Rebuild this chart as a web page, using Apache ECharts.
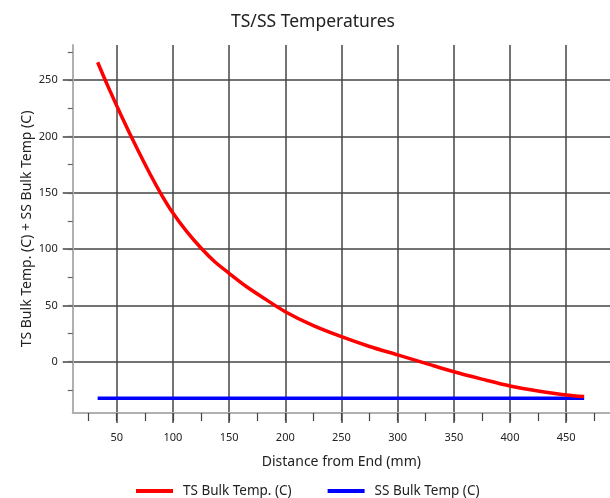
<!DOCTYPE html>
<html>
<head>
<meta charset="utf-8">
<script src="https://cdn.jsdelivr.net/npm/echarts@6/dist/echarts.min.js"></script>
<style>
html,body{margin:0;padding:0;background:#fff;}
#c{width:610px;height:498px;}
</style>
</head>
<body>
<div id="c"></div>
<script>
const tsX = [33, 42, 55, 68, 80, 90, 100, 112, 125, 137, 150, 165, 180, 200, 225, 250, 275, 300, 325, 350, 375, 400, 425, 450, 466];
const tsY = [266, 245, 216.5, 189.5, 166, 148, 132, 116, 101, 89, 78.5, 67, 57, 44.4, 32, 22.2, 13.5, 6, -1.5, -9, -15.5, -21.6, -26, -29.6, -31];
const ssX = [33, 150, 300, 466];
const ssY = [-32.5, -32.5, -32.5, -32.5];
const xMajor = [50, 100, 150, 200, 250, 300, 350, 400, 450];
const xMinor = [25, 50, 75, 100, 125, 150, 175, 200, 225, 250, 275, 300, 325, 350, 375, 400, 425, 450, 475];
const yMajor = [0, 50, 100, 150, 200, 250];
const yMinor = [-25, 0, 25, 50, 75, 100, 125, 150, 175, 200, 225, 250, 275];
const xRange = [10.8, 489];
const yRange = [-45.6, 281.3];

const FONT = 'Noto Sans';
const chart = echarts.init(document.getElementById('c'), null, {renderer: 'canvas'});
const gridColor = '#444';
const axisGray = '#b0b0b0';

chart.setOption({
  animation: false,
  backgroundColor: '#fff',
  textStyle: {fontFamily: FONT},
  title: {
    text: 'TS/SS Temperatures',
    left: 308, textAlign: 'center', top: 8,
    textStyle: {fontFamily: FONT, fontSize: 17.5, fontWeight: 'normal', color: '#222'}
  },
  legend: {
    left: 131, top: 479,
    itemWidth: 37, itemHeight: 4, itemGap: 36,
    icon: 'rect',
    textStyle: {fontFamily: FONT, fontSize: 13.5, color: '#222', padding: [0, 0, 0, 5]},
    data: ['TS Bulk Temp. (C)', 'SS Bulk Temp (C)']
  },
  grid: {left: 72.7, right: 0, top: 45, bottom: 85},
  xAxis: [{
    type: 'value', min: xRange[0], max: xRange[1], position: 'bottom',
    name: 'Distance from End (mm)', nameLocation: 'middle', nameGap: 42, nameMoveOverlap: false,
    nameTextStyle: {fontFamily: FONT, fontSize: 14, color: '#222'},
    axisLine: {show: true, onZero: false, lineStyle: {color: axisGray, width: 2}},
    axisTick: {show: true, customValues: xMajor, length: 10, lineStyle: {color: gridColor, width: 1.5}},
    axisLabel: {customValues: xMajor, margin: 19, fontFamily: FONT, fontSize: 11, color: '#222'},
    splitLine: {show: true, lineStyle: {color: gridColor, width: 1.5}}
  }, {
    type: 'value', min: xRange[0], max: xRange[1], position: 'bottom',
    axisLine: {show: false, onZero: false},
    axisTick: {show: true, customValues: xMinor, length: 8, lineStyle: {color: gridColor, width: 1.2}},
    axisLabel: {show: false},
    splitLine: {show: false}
  }],
  yAxis: [{
    type: 'value', min: yRange[0], max: yRange[1], position: 'left',
    name: 'TS Bulk Temp. (C) + SS Bulk Temp (C)', nameLocation: 'middle', nameGap: 39, nameMoveOverlap: false,
    nameTextStyle: {fontFamily: FONT, fontSize: 14, color: '#222'},
    axisLine: {show: true, onZero: false, lineStyle: {color: axisGray, width: 2}},
    axisTick: {show: true, customValues: yMajor, length: 10, lineStyle: {color: gridColor, width: 1.5}},
    axisLabel: {customValues: yMajor, margin: 15, fontFamily: FONT, fontSize: 11, color: '#222'},
    splitLine: {show: true, lineStyle: {color: gridColor, width: 1.5}}
  }, {
    type: 'value', min: yRange[0], max: yRange[1], position: 'left',
    axisLine: {show: false, onZero: false},
    axisTick: {show: true, customValues: yMinor, length: 5, lineStyle: {color: '#666', width: 1.2}},
    axisLabel: {show: false},
    splitLine: {show: false}
  }],
  series: [{
    name: 'TS Bulk Temp. (C)', type: 'line', xAxisIndex: 0, yAxisIndex: 0,
    data: tsX.map((x, i) => [x, tsY[i]]),
    smooth: 0.3, showSymbol: false, symbol: 'none',
    lineStyle: {color: '#ff0000', width: 3.5}, itemStyle: {color: '#ff0000'}, z: 3
  }, {
    name: 'SS Bulk Temp (C)', type: 'line', xAxisIndex: 0, yAxisIndex: 0,
    data: ssX.map((x, i) => [x, ssY[i]]),
    showSymbol: false, symbol: 'none',
    lineStyle: {color: '#0000ff', width: 3.5}, itemStyle: {color: '#0000ff'}, z: 2
  }]
});
</script>
</body>
</html>
